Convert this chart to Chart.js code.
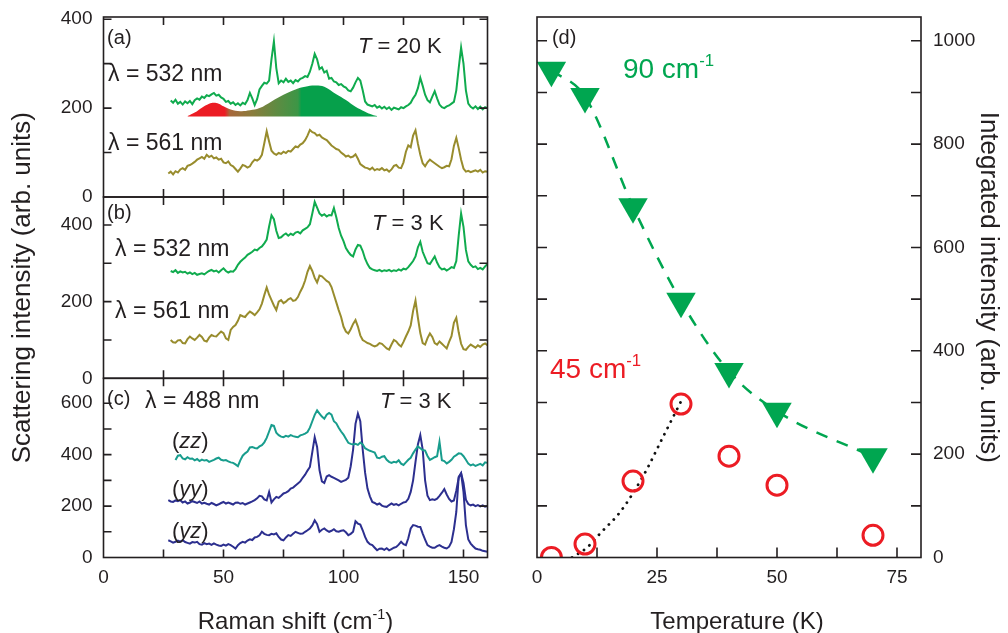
<!DOCTYPE html>
<html>
<head>
<meta charset="utf-8">
<script src="https://cdn.jsdelivr.net/npm/chart.js@4.4.0/dist/chart.umd.min.js"></script>
<style>
  html, body { margin: 0; padding: 0; background: #fff; }
  #wrap { position: relative; width: 1008px; height: 633px; overflow: hidden; }
  .box { position: absolute; }
</style>
</head>
<body>
<div id="wrap">
  <div class="box" style="left:0;top:0;width:500px;height:215px"><canvas id="cA"></canvas></div>
  <div class="box" style="left:0;top:0;width:500px;height:633px"><canvas id="cB"></canvas></div>
  <div class="box" style="left:0;top:370px;width:500px;height:263px"><canvas id="cC"></canvas></div>
  <div class="box" style="left:500px;top:0;width:508px;height:633px"><canvas id="cD"></canvas></div>
</div>
<script>
// Raman shift grid (cm-1) shared by every spectrum
const shift = [27,28,29,30,31,32,33,34,35,36,37,38,39,40,41,42,43,44,45,46,47,48,49,50,51,52,53,54,55,56,
  57,58,59,60,61,62,63,64,65,66,67,68,69,70,71,72,73,74,75,76,77,78,79,80,81,82,83,84,85,86,
  87,88,89,90,91,92,93,94,95,96,97,98,99,100,101,102,103,104,105,106,107,108,109,110,111,112,113,114,115,116,
  117,118,119,120,121,122,123,124,125,126,127,128,129,130,131,132,133,134,135,136,137,138,139,140,141,142,143,144,145,146,
  147,148,149,150,151,152,153,154,155,156,157,158,159,160];

// (a) T = 20 K
const a532 = [null,217,212,219,210,214,208,215,211,216, 209,218,222,219,226,223,229,227,231,234,
  228,230,224,221,214,216,210,213,207,211, 206,212,209,218,234,222,207,220,242,250,
  257,255,262,310,350,290,256,262,258,266, 259,262,256,263,260,266,268,272,270,282,
  300,322,310,288,292,280,284,266,268,260, 258,252,254,249,246,240,238,246,258,268,
  262,240,215,208,206,204,207,201,204,199, 203,198,202,196,201,199,197,202,200,204,
  207,212,222,230,245,268,250,230,218,213, 226,238,222,208,202,200,204,206,210,214,
  240,290,336,300,240,210,203,199,204,198, 203,197,202,200];
const a561 = [53,57,51,58,55,62,65,61,70,72, 75,79,84,87,90,86,95,90,93,87,
  89,84,86,78,76,80,72,69,63,57, 64,72,70,66,69,78,84,82,86,95,
  121,148,125,104,98,95,99,97,102,99, 104,102,108,114,112,118,121,128,138,151,
  146,144,138,140,134,131,128,122,116,112, 108,106,100,96,91,93,89,91,96,86,
  74,70,66,65,62,66,60,63,61,65, 60,62,57,62,70,72,66,65,78,102,
  116,112,138,150,120,95,76,69,78,84, 80,76,72,68,65,67,70,69,85,115,
  133,110,84,64,57,59,56,58,60,57, 61,55,58,57];
// shaded two-band sketch under the 532 nm spectrum
const bandShift = [35,38,41,44,46,48,50,53,57,61,65,70,75,80,84,88,92,97,101,105,109,112,114];
const bandInt = [182,190,201,210,212,210,204,197,193,195,200,215,230,242,248,251,248,231,218,203,192,185,182];

// (b) T = 3 K
const b532 = [null,280,277,282,275,279,276,278,273,276, 272,275,270,272,274,271,276,280,283,279,
  281,276,282,287,280,276,279,278,285,296, 304,310,315,322,326,330,336,334,340,344,
  352,362,396,425,415,385,366,368,374,378, 372,377,374,380,382,378,386,390,394,402,
  430,460,445,430,424,428,422,426,425,444, 420,392,372,358,340,330,322,318,336,348,
  346,332,312,298,288,284,282,280,283,279, 282,280,283,279,282,280,284,281,286,284,
  290,298,306,318,342,356,330,315,300,298, 308,318,302,290,284,286,281,285,290,288,
  306,372,430,395,335,305,296,290,292,285, 288,284,292,298];
const b561 = [null,100,94,93,99,100,92,91,102,109, 104,100,106,113,108,98,96,106,113,110,
  109,116,122,118,104,100,126,134,139,150, 165,162,160,168,174,170,165,172,180,195,
  217,237,218,204,190,178,200,204,196,200, 206,209,202,204,212,226,238,255,278,293,
  280,262,250,268,266,260,254,250,238,218, 198,178,160,135,122,117,128,142,152,135,
  112,100,96,92,90,86,83,86,92,90, 84,78,75,88,100,96,88,83,95,109,
  122,138,176,203,158,118,92,88,105,117, 108,92,88,96,90,84,78,95,110,145,
  158,120,90,76,74,82,88,84,80,86, 82,88,91,86];

// (c) 488 nm, T = 3 K
const cZZ = [null,null,null,379,396,398,385,382,390,384, 385,378,383,375,381,377,379,372,376,380,
  385,388,380,377,379,374,370,368,362,355, 378,396,405,412,428,430,426,424,432,437,
  448,465,490,515,512,485,476,470,468,473, 470,476,472,470,468,475,478,482,488,505,
  530,555,572,560,548,540,555,562,556,530, 522,505,490,478,462,446,442,440,442,438,
  447,440,425,420,415,412,408,388,386,392, 394,380,372,368,372,370,378,365,360,370,
  380,388,405,420,432,425,418,416,395,380, 385,390,394,450,378,375,366,372,380,392,
  398,405,404,394,380,365,358,362,356,360, 364,358,370,368];
const cYY = [223,218,216,222,219,223,214,218,210,214, 219,216,212,218,210,213,209,206,212,208,
  203,207,212,216,210,214,210,206,213,214, 209,212,206,210,214,218,223,230,240,238,
  226,222,255,214,226,236,232,240,249,252, 258,268,272,280,288,296,310,322,338,352,
  410,468,430,340,296,290,315,320,314,310, 305,300,294,298,302,310,355,420,520,560,
  530,420,330,268,238,216,212,206,210,202, 198,197,204,210,205,208,203,209,214,216,
  228,255,300,372,440,476,420,300,240,223, 226,224,229,240,252,266,245,228,218,222,
  260,310,328,290,225,208,203,206,200,204, 199,203,198,200];
const cYZ = [67,63,58,61,66,62,67,60,57,54, 60,58,61,52,50,56,52,54,49,55,
  50,47,45,50,46,52,48,42,35,48, 56,61,58,66,71,68,78,80,86,100,
  92,88,87,92,90,94,80,70,67,78, 87,84,92,100,96,92,93,100,106,113,
  125,145,130,100,108,113,105,100,104,110, 102,100,104,106,98,87,92,100,141,132,
  128,106,80,61,52,48,38,28,34,35, 30,36,28,33,38,41,50,61,52,48,
  75,113,126,124,120,119,93,70,48,42, 38,38,44,48,42,38,35,42,61,110,
  177,314,327,255,126,70,54,44,35,32, 30,26,24,22];

// (d) integrated intensities
const temps = [3, 10, 20, 30, 40, 50, 70];
const int90 = [943, 892, 679, 496, 360, 283, 195];
const int45 = [0, 26, 148, 297, 196, 140, 43];
const guideT = [7.3, 10.4, 13.2, 17.4, 22.2, 26.4, 30];
const guideInt = [0, 19, 47, 89, 159, 236, 302];

// tick labels and tick marks
const xLabL = [0, 50, 100, 150];
const xMarkL = [25, 50, 75, 100, 125, 150];
const yLabAB = [0, 200, 400];
const yMarkAB = [100, 200, 300, 400];
const yLabC = [0, 200, 400, 600];
const yMarkC = [100, 200, 300, 400, 500, 600];
const xLabD = [0, 25, 50, 75];
const xMarkD = [12.5, 25, 37.5, 50, 62.5, 75];
const yLabD = [0, 200, 400, 600, 800, 1000];
const yMarkD = [100, 200, 300, 400, 500, 600, 700, 800, 900, 1000];

const ink = '#231f20';
const fam = '"Liberation Sans", Arial, Helvetica, sans-serif';
const cGreen = '#10ab4e', cOlive = '#988c2d', cTeal = '#189d8d', cNavy = '#2c2f8f';
const cTri = '#00a650', cRed = '#ec1c24';

Chart.defaults.font.family = fam;
Chart.defaults.color = ink;

// text with italic / superscript pieces
function rich(ctx, x, y, parts, size, color, align) {
  const fontOf = st => (st === 'i' ? 'italic ' : '') + (st === 's' ? size * 0.6 : size) + 'px ' + fam;
  let w = 0;
  parts.forEach(([t, st]) => { ctx.font = fontOf(st); w += ctx.measureText(t).width; });
  let cx = align === 'center' ? x - w / 2 : x;
  const base = y + size * 0.36;
  ctx.fillStyle = color;
  ctx.textAlign = 'left';
  ctx.textBaseline = 'alphabetic';
  parts.forEach(([t, st]) => {
    ctx.font = fontOf(st);
    ctx.fillText(t, cx, st === 's' ? base - size * 0.42 : base);
    cx += ctx.measureText(t).width;
  });
}

const lam = s => [['λ = ' + s + ' nm', 'n']];
const notes = {
  cA: { xt: xMarkL, yt: yMarkAB, sides: 'tblr', len: 8, texts: [
    { x: 1.5, y: 360, parts: [['(a)', 'n']], size: 20 },
    { x: 1.9, y: 279, parts: lam('532'), size: 23 },
    { x: 106, y: 342, parts: [['T', 'i'], [' = 20 K', 'n']], size: 22 },
    { x: 1.9, y: 124, parts: lam('561'), size: 23 }] },
  cB: { xt: xMarkL, yt: yMarkAB, sides: 'tblr', len: 8, texts: [
    { x: 1.5, y: 434, parts: [['(b)', 'n']], size: 20 },
    { x: 111.9, y: 408, parts: [['T', 'i'], [' = 3 K', 'n']], size: 22 },
    { x: 4.8, y: 340, parts: lam('532'), size: 23 },
    { x: 4.8, y: 178, parts: lam('561'), size: 23 }],
    titles: [{ x: 21, dy2: 0, rot: -Math.PI / 2, size: 26, parts: [['Scattering intensity (arb. units)', 'n']] }] },
  cC: { xt: xMarkL, yt: yMarkC, sides: 'tblr', len: 8, texts: [
    { x: 1.5, y: 621, parts: [['(c)', 'n']], size: 20 },
    { x: 17.3, y: 613, parts: lam('488'), size: 23 },
    { x: 115.2, y: 613, parts: [['T', 'i'], [' = 3 K', 'n']], size: 22 },
    { x: 28.5, y: 457, parts: [['(', 'n'], ['zz', 'i'], [')', 'n']], size: 22 },
    { x: 28.5, y: 270, parts: [['(', 'n'], ['yy', 'i'], [')', 'n']], size: 22 },
    { x: 28.5, y: 107, parts: [['(', 'n'], ['yz', 'i'], [')', 'n']], size: 22 }],
    titles: [{ dy: 62.5, size: 24, parts: [['Raman shift (cm', 'n'], ['-1', 's'], [')', 'n']] }] },
  cD: { xt: xMarkD, yt: yMarkD, sides: 'blr', len: 10, texts: [
    { x: 3.1, y: 1008, parts: [['(d)', 'n']], size: 20 },
    { x: 17.9, y: 948, parts: [['90 cm', 'n'], ['-1', 's']], size: 28, color: cTri },
    { x: 2.7, y: 367, parts: [['45 cm', 'n'], ['-1', 's']], size: 28, color: cRed }],
    titles: [{ dy: 62.5, dx: 8, size: 24, parts: [['Temperature (K)', 'n']] },
             { x: 490, rot: Math.PI / 2, size: 26, parts: [['Integrated intensity (arb. units)', 'n']] }] }
};

const frame = {
  id: 'frame',
  afterDraw(chart) {
    const n = notes[chart.canvas.id];
    const { ctx, chartArea: a } = chart;
    const xs = chart.scales.x, ys = chart.scales.y;
    ctx.save();
    ctx.strokeStyle = ink;
    ctx.lineWidth = 1.6;
    ctx.strokeRect(a.left, a.top, a.right - a.left, a.bottom - a.top);
    ctx.beginPath();
    n.xt.forEach(v => {
      const p = xs.getPixelForValue(v);
      if (n.sides.includes('b')) { ctx.moveTo(p, a.bottom); ctx.lineTo(p, a.bottom - n.len); }
      if (n.sides.includes('t')) { ctx.moveTo(p, a.top); ctx.lineTo(p, a.top + n.len); }
    });
    n.yt.forEach(v => {
      const p = ys.getPixelForValue(v);
      if (n.sides.includes('l')) { ctx.moveTo(a.left, p); ctx.lineTo(a.left + n.len, p); }
      if (n.sides.includes('r')) { ctx.moveTo(a.right, p); ctx.lineTo(a.right - n.len, p); }
    });
    ctx.stroke();
    n.texts.forEach(t => rich(ctx, xs.getPixelForValue(t.x), ys.getPixelForValue(t.y), t.parts, t.size, t.color || ink, 'left'));
    (n.titles || []).forEach(t => {
      const cx = t.x !== undefined ? t.x : (a.left + a.right) / 2 + (t.dx || 0);
      const cy = t.dy !== undefined ? a.bottom + t.dy : (a.top + a.bottom) / 2;
      ctx.save();
      ctx.translate(cx, cy);
      ctx.rotate(t.rot || 0);
      rich(ctx, 0, 0, t.parts, t.size, ink, 'center');
      ctx.restore();
    });
    ctx.restore();
  }
};

function pts(arr) {
  return shift.map((s, i) => ({ x: s, y: arr[i] })).filter(p => p.y !== null);
}
function zip(xs, ys) {
  return xs.map((v, i) => ({ x: v, y: ys[i] }));
}
function spectrum(arr, color) {
  return { data: pts(arr), borderColor: color, borderWidth: 2, pointRadius: 0, fill: false, tension: 0 };
}

function axisX(labels, min, max, show) {
  return {
    type: 'linear', min: min, max: max, display: show,
    grid: { display: false, drawTicks: false }, border: { display: false },
    afterBuildTicks: s => { s.ticks = labels.map(v => ({ value: v })); },
    ticks: { padding: 9, font: { size: 19 }, color: ink, maxRotation: 0, autoSkip: false, callback: v => String(v) },
    afterFit: s => { s.height = show ? 75.5 : 0; s.paddingLeft = 0; s.paddingRight = 0; }
  };
}
function axisY(labels, max, pos, width, pad) {
  return {
    type: 'linear', position: pos, min: 0, max: max,
    grid: { display: false, drawTicks: false }, border: { display: false },
    afterBuildTicks: s => { s.ticks = labels.map(v => ({ value: v })); },
    ticks: { padding: pad, font: { size: 19 }, color: ink, autoSkip: false, callback: v => String(v) },
    afterFit: s => { s.width = width; s.paddingTop = 0; s.paddingBottom = 0; }
  };
}
function base(padding, scales) {
  return {
    responsive: true, maintainAspectRatio: false, animation: false, events: [],
    layout: { padding: padding },
    plugins: { legend: { display: false }, tooltip: { enabled: false } },
    scales: scales
  };
}

// band fill: red low-energy lobe blending into the green broad lobe
function bandFill(context) {
  const c = context.chart;
  if (!c.chartArea) return 'rgba(0,0,0,0)';
  const xs = c.scales.x;
  const x0 = xs.getPixelForValue(35), x1 = xs.getPixelForValue(114);
  const g = c.ctx.createLinearGradient(x0, 0, x1, 0);
  const f = r => (r - 35) / 79;
  g.addColorStop(0, '#ec1c24');
  g.addColorStop(f(50.5), '#ec1c24');
  g.addColorStop(f(52.5), '#a8673a');
  g.addColorStop(f(62), '#8a7c3c');
  g.addColorStop(f(72), '#5f8b42');
  g.addColorStop(f(81), '#3c9646');
  g.addColorStop(f(82.5), '#06a04b');
  g.addColorStop(1, '#06a04b');
  return g;
}

new Chart(document.getElementById('cA'), {
  type: 'line',
  data: { datasets: [
    spectrum(a532, cGreen),
    spectrum(a561, cOlive),
    { data: zip(bandShift, bandInt), borderWidth: 0, borderColor: 'rgba(0,0,0,0)', pointRadius: 0,
      tension: 0.4, fill: { value: 181 }, backgroundColor: bandFill }
  ] },
  options: base({ left: 0, right: 12.5, top: 17, bottom: 18 },
    { x: axisX(xLabL, 0, 160, false), y: axisY(yLabAB, 405, 'left', 103.5, 11) }),
  plugins: [frame]
});

new Chart(document.getElementById('cB'), {
  type: 'line',
  data: { datasets: [spectrum(b532, cGreen), spectrum(b561, cOlive)] },
  options: base({ left: 0, right: 12.5, top: 197, bottom: 254.7 },
    { x: axisX(xLabL, 0, 160, false), y: axisY(yLabAB, 473, 'left', 103.5, 11) }),
  plugins: [frame]
});

new Chart(document.getElementById('cC'), {
  type: 'line',
  data: { datasets: [spectrum(cZZ, cTeal), spectrum(cYY, cNavy), spectrum(cYZ, cNavy)] },
  options: base({ left: 0, right: 12.5, top: 8.3, bottom: 0 },
    { x: axisX(xLabL, 0, 160, true), y: axisY(yLabC, 697, 'left', 103.5, 11) }),
  plugins: [frame]
});

new Chart(document.getElementById('cD'), {
  type: 'line',
  data: { datasets: [
    { data: zip(temps, int90), showLine: false, pointStyle: 'triangle', pointRotation: 180,
      pointRadius: 17, pointBackgroundColor: cTri, pointBorderWidth: 0 },
    { data: zip(temps, int45), showLine: false, pointStyle: 'circle', pointRadius: 10,
      pointBorderWidth: 3, pointBorderColor: cRed, pointBackgroundColor: 'rgba(0,0,0,0)', clip: 0 },
    { data: zip(temps, int90), borderColor: cTri, borderWidth: 2.5, borderDash: [12, 10],
      pointRadius: 0, cubicInterpolationMode: 'monotone' },
    { data: zip(guideT, guideInt), borderColor: '#111', borderWidth: 2.8, borderDash: [0.1, 7],
      borderCapStyle: 'round', pointRadius: 0, cubicInterpolationMode: 'monotone' }
  ] },
  options: base({ left: 37, right: 0, top: 17, bottom: 0 },
    { x: axisX(xLabD, 0, 80, true), y: axisY(yLabD, 1046, 'right', 87, 12) }),
  plugins: [frame]
});
</script>
</body>
</html>
